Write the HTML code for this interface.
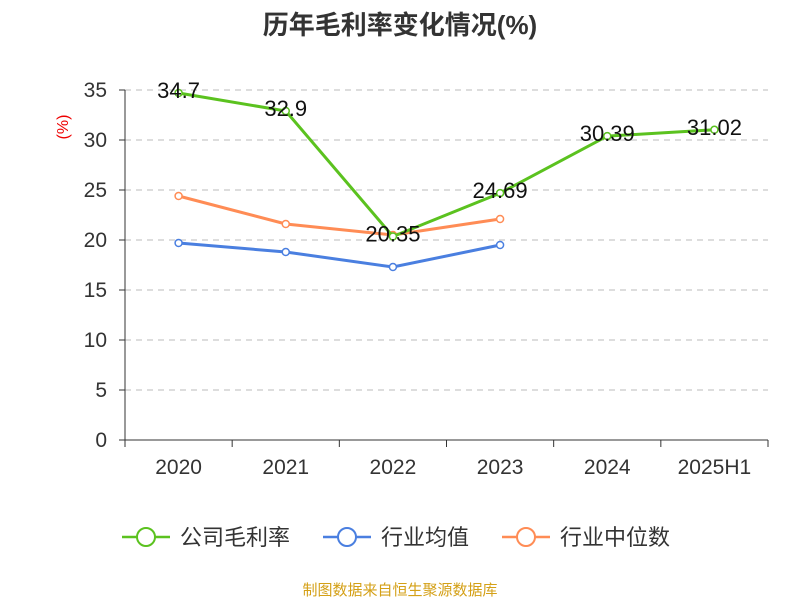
<!DOCTYPE html>
<html><head><meta charset="utf-8"><style>
body{margin:0;background:#fff;}
svg text{font-family:"Liberation Sans","Noto Sans CJK SC",sans-serif;}
</style></head><body>
<svg id="c" width="800" height="600" xmlns="http://www.w3.org/2000/svg">
<text x="400" y="34" text-anchor="middle" font-size="26" font-weight="bold" fill="#333">历年毛利率变化情况(%)</text>
<text x="68" y="127" font-size="16" fill="#e00" transform="rotate(-90 68 127)" text-anchor="middle">(%)</text>
<g id="grid"></g><g id="axes"></g><g id="series"></g>
<g font-size="22" fill="#333">
<g><line x1="122" y1="537" x2="170" y2="537" stroke="#5bc21f" stroke-width="2.5"/><circle cx="146" cy="537" r="9" fill="#fff" stroke="#5bc21f" stroke-width="2"/><text x="180" y="545">公司毛利率</text></g>
<g><line x1="323" y1="537" x2="371" y2="537" stroke="#4a7fe0" stroke-width="2.5"/><circle cx="347" cy="537" r="9" fill="#fff" stroke="#4a7fe0" stroke-width="2"/><text x="381" y="545">行业均值</text></g>
<g><line x1="502" y1="537" x2="550" y2="537" stroke="#ff8c55" stroke-width="2.5"/><circle cx="526" cy="537" r="9" fill="#fff" stroke="#ff8c55" stroke-width="2"/><text x="560" y="545">行业中位数</text></g>
</g>
<text x="400" y="595" text-anchor="middle" font-size="15" fill="#d4a017">制图数据来自恒生聚源数据库</text>
</svg>
<script>
const categories=["2020","2021","2022","2023","2024","2025H1"];
const company=[34.7,32.9,20.35,24.69,30.39,31.02];
const companyLabels=["34.7","32.9","20.35","24.69","30.39","31.02"];
const industryAvg=[19.7,18.8,17.3,19.5];
const industryMedian=[24.4,21.6,20.5,22.1];
const yTicks=[0,5,10,15,20,25,30,35];
const NS="http://www.w3.org/2000/svg";
const x0=125,x1=768,y0=440,yMax=35,yTop=90;
const bw=(x1-x0)/categories.length;
const X=i=>x0+bw*(i+0.5);
const Y=v=>y0-(v/yMax)*(y0-yTop);
function mk(t,a,p){const e=document.createElementNS(NS,t);for(const k in a)e.setAttribute(k,a[k]);p.appendChild(e);return e;}
const grid=document.getElementById('grid'),axes=document.getElementById('axes'),ser=document.getElementById('series');
yTicks.forEach(v=>{
 if(v>0){const l=mk('line',{x1:x0,x2:x1,y1:Y(v),y2:Y(v),stroke:'#bbb','stroke-dasharray':'6,5'},grid);
 
 }
 const t=mk('text',{x:x0-18,y:Y(v)+7,'text-anchor':'end','font-size':21,fill:'#333'},axes);t.textContent=v;
 
 
 mk('line',{x1:x0-6,x2:x0,y1:Y(v),y2:Y(v),stroke:'#333'},axes);
});
mk('line',{x1:x0,x2:x0,y1:yTop,y2:y0,stroke:'#333'},axes);
mk('line',{x1:x0,x2:x1,y1:y0,y2:y0,stroke:'#333'},axes);
for(let i=0;i<=categories.length;i++)mk('line',{x1:x0+bw*i,x2:x0+bw*i,y1:y0,y2:y0+7,stroke:'#333'},axes);
categories.forEach((c,i)=>{const t=mk('text',{x:X(i),y:474,'text-anchor':'middle','font-size':21,fill:'#333'},axes);t.textContent=c;
 
 });
function line(vals,color,name){
 const g=mk('g',{},ser);
 
 
 mk('polyline',{points:vals.map((v,i)=>X(i)+','+Y(v)).join(' '),fill:'none',stroke:color,'stroke-width':3},g);
 vals.forEach((v,i)=>{const c=mk('circle',{cx:X(i),cy:Y(v),r:3.5,fill:'#fff',stroke:color,'stroke-width':1.5},g);
 
 });
 return g;
}
line(industryMedian,'#ff8c55','industry-median-line');
line(industryAvg,'#4a7fe0','industry-average-line');
const g=line(company,'#5bc21f','company-margin-line');
company.forEach((v,i)=>{const t=mk('text',{x:X(i),y:Y(v)+5,'text-anchor':'middle','font-size':22,fill:'#111'},g);t.textContent=companyLabels[i];
 
 });
</script>
</body></html>
